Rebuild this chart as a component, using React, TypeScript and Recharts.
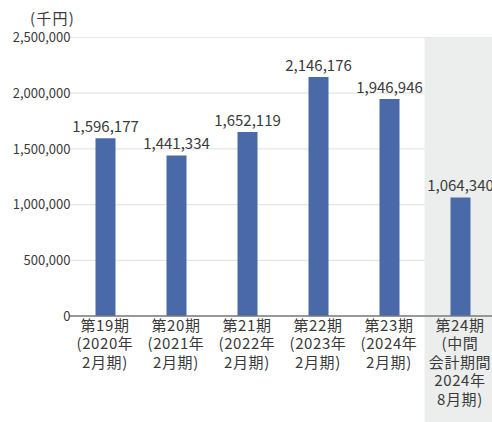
import React from 'react';
import { BarChart, Bar, XAxis, YAxis, CartesianGrid, LabelList, ReferenceArea } from 'recharts';

const categories = ['第19期', '第20期', '第21期', '第22期', '第23期', '第24期'];
const values = [1596177, 1441334, 1652119, 2146176, 1946946, 1064340];
const tickLines: string[][] = [
  ['第19期', '(2020年', '2月期)'],
  ['第20期', '(2021年', '2月期)'],
  ['第21期', '(2022年', '2月期)'],
  ['第22期', '(2023年', '2月期)'],
  ['第23期', '(2024年', '2月期)'],
  ['第24期', '(中間', '会計期間', '2024年', '8月期)'],
];
const yTicks = [0, 500000, 1000000, 1500000, 2000000, 2500000];
const unitLabel = '(千円)';
const highlightCategory = '第24期';

const data = categories.map((c, i) => ({ name: c, value: values[i] }));

const FONT = "'Noto Sans CJK JP', 'Noto Sans', sans-serif";
const TEXT = '#3a3a3a';

const fmt = (v: number) => v.toLocaleString('en-US');

const XTick = (props: any) => {
  const { x, y, payload } = props;
  const idx = categories.indexOf(payload.value);
  const lines = tickLines[idx] || [payload.value];
  return (
    <text x={x} y={y} textAnchor="middle" fill={TEXT} fontSize={15} fontFamily={FONT} letterSpacing={0.6}>
      {lines.map((l, i) => (
        <tspan key={i} x={x} dy={i === 0 ? 15 : 18.4}>{l}</tspan>
      ))}
    </text>
  );
};

export default function App() {
  return (
    <div style={{ position: 'absolute', left: 0, top: 0, width: 492, height: 422, overflow: 'hidden', background: '#fff' }}>
      <div style={{ position: 'absolute', left: 30, top: 8, fontSize: 15, fontFamily: FONT, color: TEXT, whiteSpace: 'nowrap', lineHeight: '20px', letterSpacing: 1.2 }}>
        {unitLabel}
      </div>
      <BarChart width={500} height={422} data={data} margin={{ top: 37.5, right: 4.5, bottom: 0, left: 0 }} barCategoryGap={0}>
        <ReferenceArea x1={highlightCategory} x2={highlightCategory} y1={-1500000} y2={2500000} fill="#eceeed" fillOpacity={1} stroke="none" ifOverflow="visible" />
        <CartesianGrid vertical={false} stroke="#e6e6e6" strokeWidth={1.2} />
        <XAxis dataKey="name" height={106} tick={<XTick />} tickLine={false} axisLine={{ stroke: '#7a7a7a', strokeWidth: 1.5 }} interval={0} tickSize={0} tickMargin={0} />
        <YAxis width={69.5} domain={[0, 2500000]} ticks={yTicks} tickFormatter={fmt} axisLine={false} tickLine={false} tickSize={0} tickMargin={-1} tick={{ fill: TEXT, fontSize: 13, fontFamily: FONT }} />
        <Bar dataKey="value" fill="#4a69a9" barSize={20} isAnimationActive={false}>
          <LabelList dataKey="value" position="top" offset={6} formatter={(v: any) => fmt(Number(v))} style={{ fill: TEXT, fontSize: 15, fontFamily: FONT }} />
        </Bar>
      </BarChart>
    </div>
  );
}
